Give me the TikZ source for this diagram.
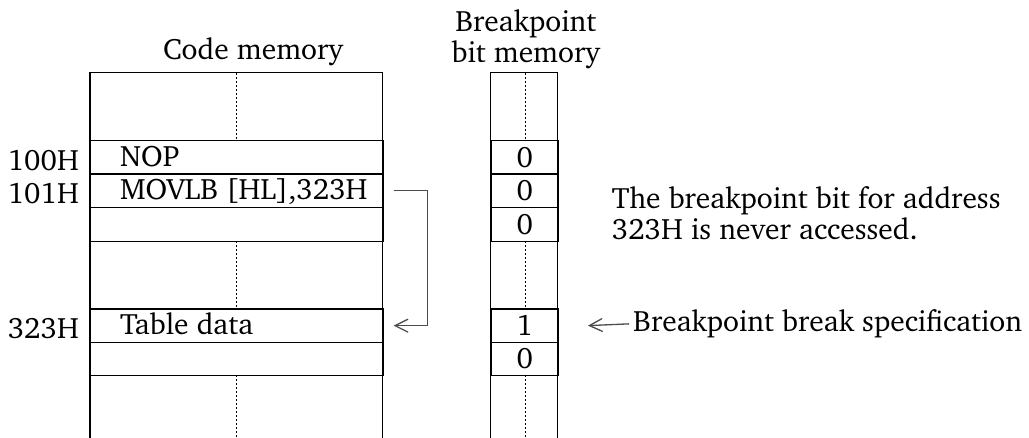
\documentclass[tikz,border=0pt]{standalone}
\usepackage[T1]{fontenc}
\usepackage{charter}
\usetikzlibrary{arrows.meta}
\begin{document}
\begin{tikzpicture}[x=1pt,y=-1pt,
  txt/.style={font=\fontsize{29.5}{34}\selectfont, inner sep=0pt},
  cell/.style={draw, line width=1.3pt, minimum height=33.4pt, inner sep=0pt, anchor=north west, font=\fontsize{29.5}{34}\selectfont},
  ccell/.style={cell, minimum width=292.3pt},
  bcell/.style={cell, minimum width=67pt},
  wall/.style={line width=1.3pt},
  mid/.style={dash pattern=on 2.5pt off 1.5pt, line width=0.8pt},
  conn/.style={line width=1.3pt, draw=black!70},
  tipa/.style={-{Straight Barb[length=13pt,width=13pt,line width=1.3pt]}}]
\useasboundingbox (0,0) rectangle (1029,438);
% frames
\draw[wall] (90,438) -- (90,72.7) -- (382.3,72.7) -- (382.3,438);
\draw[wall] (490.7,438) -- (490.7,72.7) -- (557.7,72.7) -- (557.7,438);
% code cells
\node[ccell] (c1) at (90,140) {};
\node[ccell] (c2) at (90,173.3) {};
\node[ccell, minimum height=34.3pt] (c3) at (90,206.7) {};
\node[ccell] (c4) at (90,308.3) {};
\node[ccell] (c5) at (90,341.7) {};
% bit cells
\node[bcell] (b1) at (490.7,140) {0};
\node[bcell] (b2) at (490.7,173.3) {0};
\node[bcell, minimum height=34.3pt] (b3) at (490.7,206.7) {0};
\node[bcell] (b4) at (490.7,308.3) {1};
\node[bcell] (b5) at (490.7,341.7) {0};
% dashed middles
\draw[mid] (236,72.7) -- (236,140);
\draw[mid] (236,241) -- (236,308.3);
\draw[mid] (236,375) -- (236,438);
\draw[mid] (525.3,72.7) -- (525.3,140);
\draw[mid] (525.3,241) -- (525.3,308.3);
\draw[mid] (525.3,375) -- (525.3,438);
% cell texts
\node[txt, anchor=base west] (t1) at ([xshift=30pt,yshift=8.3pt]c1.south west) {NOP};
\node[txt, anchor=base west] (t2) at ([xshift=30pt,yshift=8.3pt]c2.south west) {MOVLB [HL],323H};
\node[txt, anchor=base west] (t4) at ([xshift=30pt,yshift=8.3pt]c4.south west) {Table data};
% addresses
\node[txt, anchor=base east] (a1) at ([xshift=-11pt,yshift=4pt]c1.south west) {100H};
\node[txt, anchor=base east] (a2) at ([xshift=-11pt,yshift=4pt]c2.south west) {101H};
\node[txt, anchor=base east] (a4) at ([xshift=-11pt,yshift=4pt]c4.south west) {323H};
% headers
\node[txt, anchor=base] (h1) at (253,60) {Code memory};
\node[txt, anchor=base] (h2) at (525.8,31.7) {Breakpoint};
\node[txt, anchor=base] (h3) at (525.8,63) {bit memory};
% right notes
\node[txt, anchor=base west] (n1) at (611.7,208.3) {The breakpoint bit for address};
\node[txt, anchor=base west] (n2) at (611.7,240) {323H is never accessed.};
\node[txt, inner xsep=4pt, anchor=base west] (spec) at (629,331.7) {Breakpoint break specification};
% connectors
\coordinate (s) at ([xshift=10pt]c2.east);
\coordinate (t) at ([xshift=10pt]c4.east);
\coordinate (tip) at ([xshift=29pt]b4.east);
\draw[conn, tipa] (s) -| ([xshift=34pt]t) -- (t);
\draw[conn, tipa] (spec.west) -- (tip);
\end{tikzpicture}
\end{document}
